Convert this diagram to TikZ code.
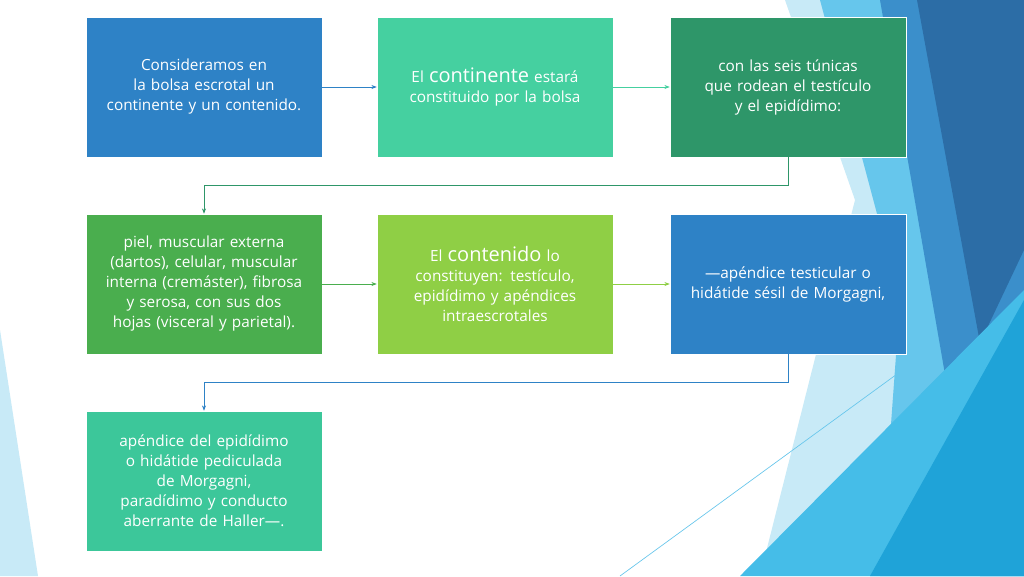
\documentclass[tikz,border=0pt]{standalone}
\usepackage{fontspec}
\setmainfont{Open Sans}
\usetikzlibrary{arrows.meta,positioning}
\tikzset{
  box/.style={minimum width=177pt, minimum height=105pt, inner sep=3pt, text width=163pt,
    align=center, text=white, font=\fontsize{11.5}{15}\selectfont,
    draw=white, line width=0.4pt},
  link/.style={-{Stealth[length=4pt,width=3pt]}, line width=0.5pt}
}
\definecolor{cBlue}{HTML}{2E82C6}
\definecolor{cTeal}{HTML}{45D0A0}
\definecolor{cGreen}{HTML}{2E9669}
\definecolor{cLeaf}{HTML}{4AAE4E}
\definecolor{cLime}{HTML}{8FCF45}
\definecolor{cMint}{HTML}{3CC79A}
\definecolor{bgPale}{HTML}{C8EAF7}
\definecolor{bgSky}{HTML}{66C6EC}
\definecolor{bgMid}{HTML}{3B8FCB}
\definecolor{bgDark}{HTML}{2C6DA6}
\definecolor{bgCyan}{HTML}{45BDE8}
\definecolor{bgDeep}{HTML}{1FA3D8}
\hyphenpenalty=10000
\exhyphenpenalty=10000
\begin{document}
\begin{tikzpicture}[x=0.75pt,y=-0.75pt]
\useasboundingbox (0,0) rectangle (1024,576);
% background
\fill[white] (0,0) rectangle (1024,576);
\fill[bgPale] (785,0) -- (855,200) -- (760,576) -- (1024,576) -- (1024,0) -- cycle;
\fill[bgSky] (820,0) -- (1024,0) -- (1024,576) -- (880,576) -- (900,300) -- cycle;
\fill[bgMid] (880,0) -- (1024,0) -- (1024,576) -- (980,576) -- cycle;
\fill[bgDark] (917,0) -- (1024,0) -- (1024,250) -- (980,343) -- cycle;
\fill[bgCyan] (740,576) -- (1024,290) -- (1024,576) -- cycle;
\fill[bgDeep] (870,576) -- (1024,300) -- (1024,576) -- cycle;
\draw[bgSky, line width=0.5pt] (620,576) -- (930,350);
\fill[bgPale] (0,330) -- (38,576) -- (0,576) -- cycle;
% boxes
\node[box, fill=cBlue] (cons) at (204,87) {Consideramos en la bolsa escrotal un continente y un contenido.};
\node[box, fill=cTeal] (cont) at (495,87) {El {\fontsize{15}{15}\selectfont continente} estará constituido por la bolsa};
\node[box, fill=cGreen] (tun) at (788,87) {con las seis túnicas que rodean el testículo y el epidídimo:\\[18pt]};
\node[box, fill=cLeaf] (piel) at (204,284) {piel, muscular externa (dartos), celular, muscular interna (cremáster), fibrosa y serosa, con sus dos hojas (visceral y parietal).};
\node[box, fill=cLime] (cdo) at (495,284) {El {\fontsize{15}{15}\selectfont contenido} lo constituyen: testículo, epidídimo y apéndices intraescrotales};
\node[box, fill=cBlue] (apt) at (788,284) {—apéndice testicular o hidátide sésil de Morgagni,\\[18pt]};
\node[box, fill=cMint] (ape) at (204,481) {apéndice del epidídimo o hidátide pediculada de Morgagni, paradídimo y conducto aberrante de Haller—.};
% connectors
\draw[link, cBlue] (cons) -- (cont);
\draw[link, cTeal] (cont) -- (tun);
\draw[link, cGreen] (tun.south) -- ++(0,28) -| (piel.north);
\draw[link, cLeaf] (piel) -- (cdo);
\draw[link, cLime] (cdo) -- (apt);
\draw[link, cBlue] (apt.south) -- ++(0,28) -| (ape.north);
\end{tikzpicture}
\end{document}
